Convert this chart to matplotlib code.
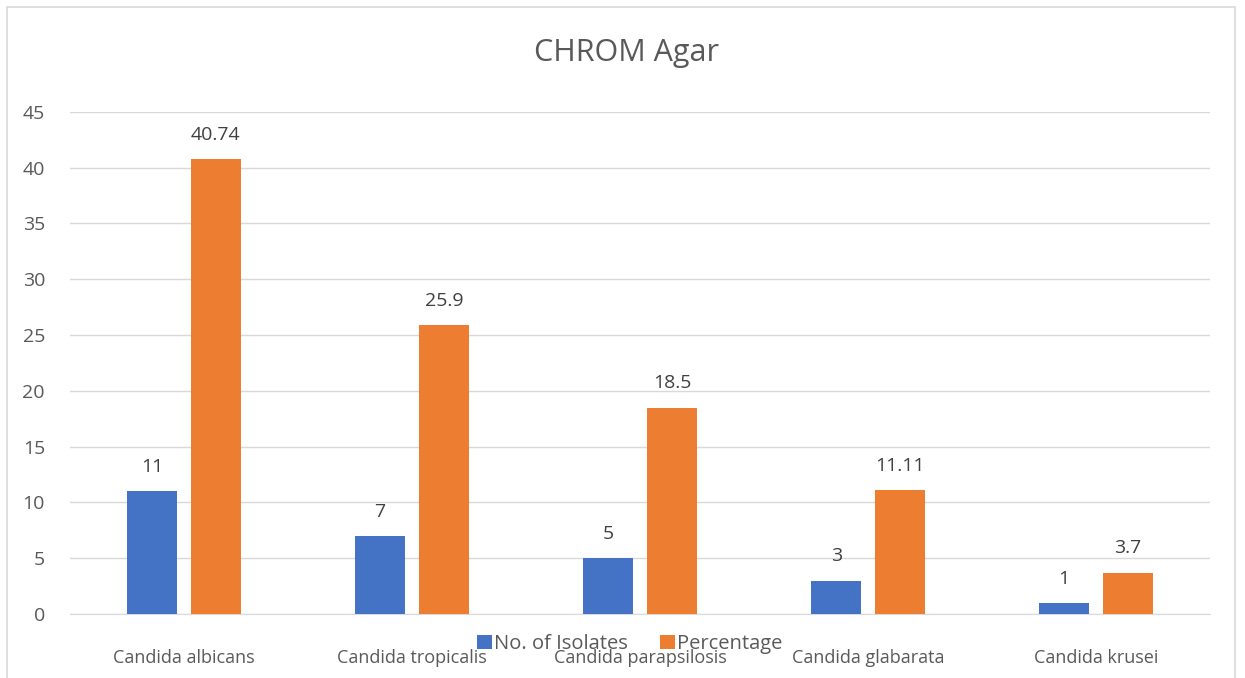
import matplotlib.pyplot as plt
import numpy as np
from matplotlib import patches

species = ["Candida albicans", "Candida tropicalis", "Candida parapsilosis",
           "Candida glabarata", "Candida krusei"]
isolates = [11, 7, 5, 3, 1]
percentage = [40.74, 25.9, 18.5, 11.11, 3.7]
isolate_labels = ["11", "7", "5", "3", "1"]
percent_labels = ["40.74", "25.9", "18.5", "11.11", "3.7"]

plt.rcParams['font.family'] = ['Open Sans', 'DejaVu Sans']
txt = "#595959"

fig = plt.figure(figsize=(12.45, 6.78), dpi=100)
ax = fig.add_axes([0.0562, 0.0944, 0.9158, 0.7406])

x = np.arange(len(species))
w = 0.22
b1 = ax.bar(x - 0.14, isolates, w, color="#4472C4", label="No. of Isolates", zorder=3)
b2 = ax.bar(x + 0.14, percentage, w, color="#ED7D31", label="Percentage", zorder=3)

#data labels above the bars
for bars, labs in [(b1, isolate_labels), (b2, percent_labels)]:
    for rect, lab in zip(bars, labs):
        ax.annotate(lab, (rect.get_x() + rect.get_width() / 2, rect.get_height()),
                    xytext=(0, 11), textcoords="offset points", ha="center",
                    va="bottom", fontsize=14, color="#404040")

ax.set_xlim(-0.5, len(species) - 0.5)
ax.set_ylim(0, 45)
ax.set_yticks(range(0, 50, 5))
ax.yaxis.grid(True, color="#D9D9D9", linewidth=1, zorder=0)
ax.set_xticks(x)
ax.set_xticklabels(species)
ax.tick_params(length=0, labelsize=13, colors=txt)
ax.tick_params(axis="y", pad=18, labelsize=14)
ax.tick_params(axis="x", pad=25)
for s in ["top", "right", "left"]:
    ax.spines[s].set_visible(False)
ax.spines["bottom"].set_color("#D9D9D9")

fig.text(0.503, 0.922, "CHROM Agar", ha="center", va="center", fontsize=22, color=txt)

ax.legend(loc="center", bbox_to_anchor=(0.506, 0.05), bbox_transform=fig.transFigure,
          ncol=2, frameon=False, fontsize=14.5, labelcolor=txt, handlelength=0.75,
          handleheight=0.75, handletextpad=0.1, columnspacing=1.6)

#chart border
fig.patches.append(patches.Rectangle((0.006, -0.02), 0.986, 1.01, transform=fig.transFigure,
                                     fill=False, edgecolor="#D9D9D9", linewidth=1.2))

plt.savefig("out.png", dpi=100)
